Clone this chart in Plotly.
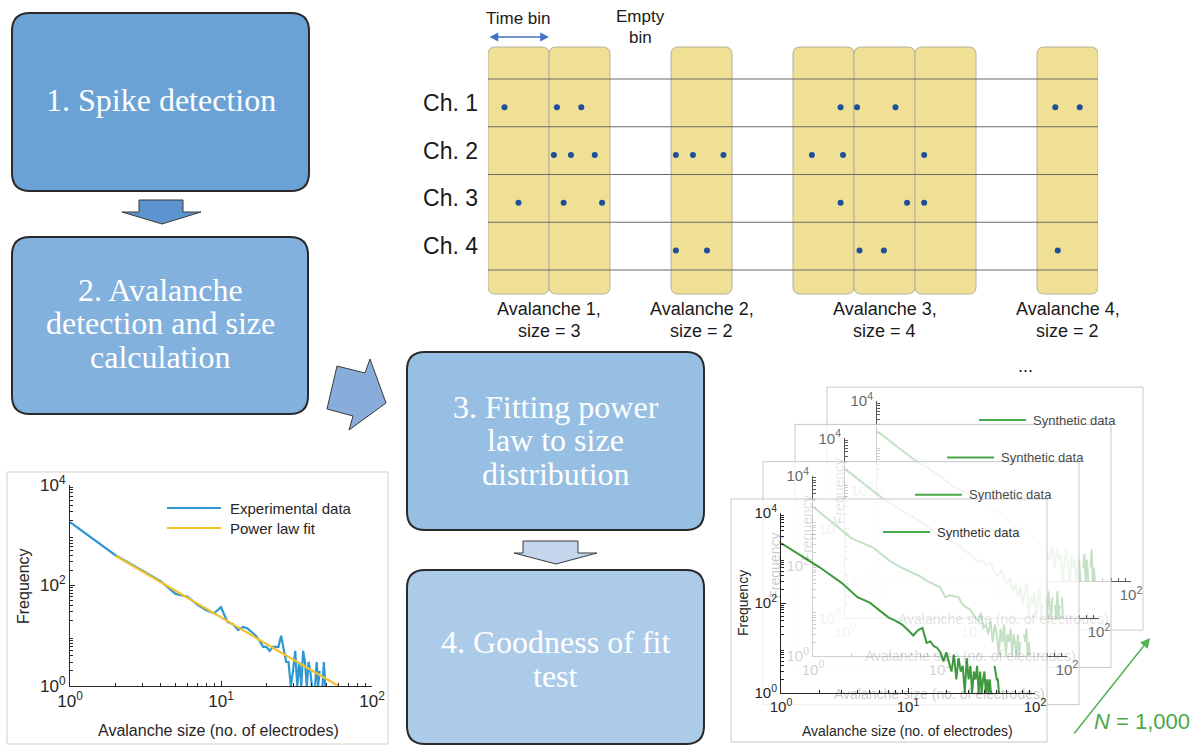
import plotly.graph_objects as go

W, H = 1202, 746          # browser window
OFF = 0                   # page margin removed by post_script below
PW, PH = W - 2 * OFF, H - 2 * OFF
SANS = "Liberation Sans, Arial, Helvetica, sans-serif"
SERIF = "Liberation Serif, Times New Roman, serif"

# ======================= DATA =======================
# Raster (spike times in units of time bins)
channel_ids = [1, 2, 3, 4]
channel_labels = ["Ch. 1", "Ch. 2", "Ch. 3", "Ch. 4"]
ch1_spikes = [0.27, 1.13, 1.53, 5.78, 6.05, 6.68, 9.30, 9.70]
ch2_spikes = [1.08, 1.36, 1.75, 3.08, 3.36, 3.86, 5.31, 5.82, 7.15]
ch3_spikes = [0.50, 1.24, 1.87, 5.78, 6.87, 7.15]
ch4_spikes = [3.08, 3.59, 6.09, 6.49, 9.34]
n_bins = 10

# Flow-chart steps
step1_lines = ["1. Spike detection"]
step2_lines = ["2. Avalanche", "detection and size", "calculation"]
step3_lines = ["3. Fitting power", "law to size", "distribution"]
step4_lines = ["4. Goodness of fit", "test"]

# Experimental size distribution
exp_size = list(range(1, 50))
exp_freq = [1820, 400, 200, 120, 68, 60, 41, 32, 28, 37,
            19, 17, 13, 15, 14, 12, 10, 8, 6, 6,
            5, 6, 6, 6, 10, 5, 3, 3, 1, 2,
            5, 1, 3, 1, 5, 3, 1, 3, 2, 1,
            None, 1, 3, 1, 2, None, 1, 3, 1]
fit_size = [2, 60]
fit_freq = [390, 1]

# Synthetic size distributions (front -> back)
syn_size = list(range(1, 53))
syn0_freq = [2140, 630, 280, 135, 102, 68, 48, 40, 33, 25,
             19, 25, 28, 13, 14, 11, 10, 8, 5, 8,
             5, 3, 7, 2, 6, 3, 4, 1, 6, 2,
             4, 1, 3, 2, 4, 1, 3, 1, 2, 3,
             1, 2, 1, 2, 1, None, None, 4, 3, 2, 2, 1]
syn1_freq = [2050, 410, 250, 130, 90, 70, 58, 45, 38, 33,
             20, 22, 21, 20, 14, 12, 11, 9, 7, 6,
             9, 4, 5, 3, 6, 2, 5, 3, 1, 4,
             2, 5, 1, 3, 2, 4, 1, 3, 2, 1,
             3, 1, 2, None, None, 3, 2, 4, 1, 2, 1, None]
syn2_freq = [2100, 450, 220, 140, 85, 62, 50, 40, 30, 26,
             18, 20, 15, 17, 11, 9, 12, 7, 6, 8,
             4, 6, 3, 5, 2, 4, 6, 1, 3, 2,
             4, 1, 3, 5, 1, 2, None, 3, 1, 4,
             2, 1, 3, None, 2, 1, 4, 1, 2, None, 3, 1]
syn3_freq = [2150, 480, 240, 125, 95, 66, 52, 38, 35, 27,
             22, 16, 18, 14, 12, 13, 9, 8, 7, 5,
             7, 4, 3, 6, 2, 5, 3, 4, 1, 3,
             5, 2, 1, 4, 2, 3, 1, 2, 3, 1,
             None, 2, 4, 1, 3, 1, None, 2, 5, 1, 2, 1]
syn_legend = "Synthetic data"
n_sims_label = "<i>N</i> = 1,000"

# ======================= HELPERS =======================
def px(x):
    return (x - OFF) / PW


def py(y):
    return 1 - (y - OFF) / PH


def rrect_path(x0, y0, x1, y1, r):
    X, Y = px, py
    return (f"M {X(x0 + r)},{Y(y0)} L {X(x1 - r)},{Y(y0)} "
            f"Q {X(x1)},{Y(y0)} {X(x1)},{Y(y0 + r)} L {X(x1)},{Y(y1 - r)} "
            f"Q {X(x1)},{Y(y1)} {X(x1 - r)},{Y(y1)} L {X(x0 + r)},{Y(y1)} "
            f"Q {X(x0)},{Y(y1)} {X(x0)},{Y(y1 - r)} L {X(x0)},{Y(y0 + r)} "
            f"Q {X(x0)},{Y(y0)} {X(x0 + r)},{Y(y0)} Z")


def poly_path(pts):
    return "M " + " L ".join(f"{px(a)},{py(b)}" for a, b in pts) + " Z"


def ann(text, x, y, size, color="#262626", family=SANS, xanchor="center",
        yanchor="middle", **kw):
    return dict(text=text, x=px(x), y=py(y), xref="paper", yref="paper",
                showarrow=False, font=dict(family=family, size=size, color=color),
                xanchor=xanchor, yanchor=yanchor, **kw)


shapes = []
annotations = []
fig = go.Figure()
layout = dict(template="none", width=PW, height=PH, autosize=False,
              margin=dict(l=0, r=0, t=0, b=0, pad=0),
              paper_bgcolor="white", plot_bgcolor="rgba(0,0,0,0)",
              showlegend=False, hovermode=False)

# ======================= FLOW CHART =======================
boxes = [
    (step1_lines, (12, 13, 309, 191), "#6ba2d6", [100]),
    (step2_lines, (12, 237, 308, 414), "#82b1de", [290, 323, 357]),
    (step3_lines, (407, 352, 704, 530), "#96bfe3", [407, 440, 474]),
    (step4_lines, (407, 570, 704, 744), "#accbe9", [642, 676]),
]
for lines, (x0, y0, x1, y1), col, ys in boxes:
    shapes.append(dict(type="path", path=rrect_path(x0, y0, x1, y1, 18),
                       xref="paper", yref="paper", fillcolor=col,
                       line=dict(color="#2a2a2a", width=2), layer="below"))
    for t, yy in zip(lines, ys):
        annotations.append(ann(t, (x0 + x1) / 2, yy, 32, color="white", family=SERIF))

arrows = [
    ([(139, 200), (183, 200), (183, 212), (201, 212), (162, 224), (122, 212), (139, 212)], "#5b94cf"),
    ([(327, 409), (337, 366), (365, 373), (370, 359), (386, 403), (349, 430), (353, 416)], "#89addb"),
    ([(523, 541), (578, 541), (578, 553), (597, 553), (556, 564), (514, 553), (523, 553)], "#c3d6ec"),
]
for pts, col in arrows:
    shapes.append(dict(type="path", path=poly_path(pts), xref="paper", yref="paper",
                       fillcolor=col, line=dict(color="#3a3a3a", width=1), layer="below"))

# ======================= RASTER =======================
RX0, RX1, RY0, RY1 = 488, 1098, 47, 294   # px domain of raster axes
DOT_DY = 0.09
spike_lists = [ch1_spikes, ch2_spikes, ch3_spikes, ch4_spikes]
all_spikes = [(ch, t) for ch, ts in zip(channel_ids, spike_lists) for t in ts]

active_bins = sorted({int(t) for _, t in all_spikes})
groups = []
for b in active_bins:
    if groups and b == groups[-1][-1] + 1:
        groups[-1].append(b)
    else:
        groups.append([b])
sizes = [len({ch for ch, t in all_spikes if int(t) in g}) for g in groups]
empty_bins = [b for b in range(n_bins) if b not in active_bins]

rx = 0.12
ry = 7 / PH
for b in active_bins:
    x0, x1 = b, b + 1
    yb, yt = py(RY1), py(RY0)
    path = (f"M {x0 + rx},{yt} L {x1 - rx},{yt} Q {x1},{yt} {x1},{yt - ry} "
            f"L {x1},{yb + ry} Q {x1},{yb} {x1 - rx},{yb} L {x0 + rx},{yb} "
            f"Q {x0},{yb} {x0},{yb + ry} L {x0},{yt - ry} Q {x0},{yt} {x0 + rx},{yt} Z")
    shapes.append(dict(type="path", path=path, xref="x", yref="paper",
                       fillcolor="#f0e096", line=dict(color="#b4b09a", width=1),
                       layer="below"))
for ch in channel_ids + [channel_ids[-1] + 1]:
    shapes.append(dict(type="line", xref="x domain", yref="y", x0=0, x1=1,
                       y0=ch - 0.5, y1=ch - 0.5,
                       line=dict(color="#6a6a6a", width=1.2), layer="below"))

fig.add_trace(go.Scatter(
    x=[t for _, t in all_spikes], y=[ch + DOT_DY for ch, _ in all_spikes],
    mode="markers", marker=dict(color="#1b4f9c", size=6),
    xaxis="x", yaxis="y"))

layout["xaxis"] = dict(domain=[px(RX0), px(RX1)], range=[0, n_bins], visible=False,
                       anchor="y", fixedrange=True, automargin=False)
layout["yaxis"] = dict(domain=[py(RY1), py(RY0)],
                       range=[channel_ids[-1] + 0.5 + (RY1 - 270) / 47.75,
                              channel_ids[0] - 0.5 - (79 - RY0) / 47.75],
                       tickvals=channel_ids, ticktext=channel_labels,
                       showgrid=False, zeroline=False, showline=False, ticks="",
                       ticklabelstandoff=9, anchor="x", fixedrange=True, automargin=False,
                       tickfont=dict(family=SANS, size=23, color="#1a1a1a"))

TXT = dict(family=SANS, size=18, color="#1a1a1a")
for g, s, i in zip(groups, sizes, range(len(groups))):
    xc = (g[0] + g[-1] + 1) / 2
    annotations.append(dict(text=f"Avalanche {i + 1},", x=xc, y=py(309), xref="x",
                            yref="paper", showarrow=False, font=TXT,
                            xanchor="center", yanchor="middle"))
    annotations.append(dict(text=f"size = {s}", x=xc, y=py(331), xref="x",
                            yref="paper", showarrow=False, font=TXT,
                            xanchor="center", yanchor="middle"))
annotations.append(dict(text="Time bin", x=0.5, y=py(18), xref="x", yref="paper",
                        showarrow=False, font=dict(TXT, size=17),
                        xanchor="center", yanchor="middle"))
bin_px = (RX1 - RX0) / n_bins
annotations.append(dict(text="", x=1, y=py(37), ax=-bin_px, ay=0, xref="x", yref="paper",
                        showarrow=True, arrowside="end+start",
                        arrowhead=2, startarrowhead=2, arrowsize=1.1, startarrowsize=1.1,
                        arrowwidth=1.6, arrowcolor="#4472c4"))
annotations.append(dict(text="Empty", x=empty_bins[0] + 0.5, y=py(16), xref="x",
                        yref="paper", showarrow=False, font=dict(TXT, size=17),
                        xanchor="center", yanchor="middle"))
annotations.append(dict(text="bin", x=empty_bins[0] + 0.5, y=py(37), xref="x",
                        yref="paper", showarrow=False, font=dict(TXT, size=17),
                        xanchor="center", yanchor="middle"))
annotations.append(ann("...", 1025, 366, 18, color="#1a1a1a"))

# ======================= LOG-LOG PLOTS =======================
minor_x = [m * 10 ** e for e in range(0, 2) for m in range(2, 10)]
minor_y = [m * 10 ** e for e in range(0, 4) for m in range(2, 10)]


def log_axes(n, xdom, ydom, tfs, tcol, lcol):
    common = dict(type="log", showgrid=False, zeroline=False, showline=True,
                  linecolor=lcol, linewidth=1, ticks="inside", ticklen=5,
                  tickcolor=lcol, fixedrange=True, automargin=False,
                  tickfont=dict(family=SANS, size=tfs, color=tcol))
    sfx = "" if n == 1 else str(n)
    layout["xaxis" + sfx] = dict(common, domain=xdom, range=[0, 2], anchor="y" + sfx,
                                 tickvals=[1, 10, 100],
                                 ticktext=["10<sup>0</sup>", "10<sup>1</sup>", "10<sup>2</sup>"],
                                 minor=dict(ticks="inside", ticklen=3, tickvals=minor_x,
                                            tickcolor=lcol))
    layout["yaxis" + sfx] = dict(common, domain=ydom, range=[0, 4], anchor="x" + sfx,
                                 tickvals=[1, 100, 10000],
                                 ticktext=["10<sup>0</sup>", "10<sup>2</sup>", "10<sup>4</sup>"],
                                 minor=dict(ticks="inside", ticklen=3, tickvals=minor_y,
                                            tickcolor=lcol))


# ---- experimental plot ----
shapes.append(dict(type="rect", xref="paper", yref="paper", x0=px(7), x1=px(388),
                   y0=py(744), y1=py(472), fillcolor="white",
                   line=dict(color="#d2d2d2", width=1), layer="below"))
log_axes(2, [px(70), px(372)], [py(686), py(485)], 17, "#262626", "#262626")
fig.add_trace(go.Scatter(x=exp_size, y=exp_freq, mode="lines",
                         line=dict(color="#2f97d2", width=2.2), xaxis="x2", yaxis="y2"))
fig.add_trace(go.Scatter(x=fit_size, y=fit_freq, mode="lines",
                         line=dict(color="#f2c12e", width=2.2), xaxis="x2", yaxis="y2"))
annotations.append(ann("Frequency", 23, 586, 16, textangle=-90))
annotations.append(ann("Avalanche size (no. of electrodes)", 218, 730, 16))
shapes.append(dict(type="line", xref="paper", yref="paper", x0=px(167), x1=px(221),
                   y0=py(508), y1=py(508), line=dict(color="#2f97d2", width=2.2)))
shapes.append(dict(type="line", xref="paper", yref="paper", x0=px(167), x1=px(221),
                   y0=py(528), y1=py(528), line=dict(color="#f2c12e", width=2.2)))
annotations.append(ann("Experimental data", 228, 508, 15, xanchor="left"))
annotations.append(ann("Power law fit", 228, 528, 15, xanchor="left"))

# ---- synthetic stack ----
DX, DY = 32, -37.3
COVER_ALPHA = 0.7
syn_series = [syn0_freq, syn1_freq, syn2_freq, syn3_freq]
plot_axis = {3: 3, 2: 5, 1: 7, 0: 9}
cover_axis = {2: 4, 1: 6, 0: 8}
title_alpha = {0: 1.0, 1: 0.26, 2: 0.18, 3: 0.14}
GREEN = "#3d9a3d"


def frame_rect(k):
    return (731 + DX * k, 499 + DY * k, 1047 + DX * k, 742 + DY * k)


# backmost frame as a plain shape
fx0, fy0, fx1, fy1 = frame_rect(3)
shapes.append(dict(type="rect", xref="paper", yref="paper", x0=px(fx0), x1=px(fx1),
                   y0=py(fy1), y1=py(fy0), fillcolor="white",
                   line=dict(color="#c8c8c8", width=1), layer="below"))

for k in [3, 2, 1, 0]:
    if k in cover_axis:
        n = cover_axis[k]
        fx0, fy0, fx1, fy1 = frame_rect(k)
        pad = 3
        wpx, hpx = fx1 - fx0, fy1 - fy0
        dl = max(fx0 - pad, OFF)
        dr = min(fx1 + pad, W - OFF)
        dt = max(fy0 - pad, OFF)
        db = min(fy1 + pad, H - OFF)
        layout[f"xaxis{n}"] = dict(domain=[px(dl), px(dr)],
                                   range=[(dl - fx0) / wpx, (dr - fx0) / wpx],
                                   visible=False, anchor=f"y{n}", fixedrange=True,
                                   automargin=False)
        layout[f"yaxis{n}"] = dict(domain=[py(db), py(dt)],
                                   range=[(fy1 - db) / hpx, (fy1 - dt) / hpx],
                                   visible=False, anchor=f"x{n}", fixedrange=True,
                                   automargin=False)
        fig.add_trace(go.Scatter(x=[0, 1, 1, 0, 0], y=[0, 0, 1, 1, 0], mode="lines",
                                 fill="toself",
                                 fillcolor=f"rgba(255,255,255,{COVER_ALPHA})",
                                 line=dict(color="#c8c8c8", width=1),
                                 xaxis=f"x{n}", yaxis=f"y{n}"))
    n = plot_axis[k]
    tcol = "#262626" if k == 0 else "#6a6a6a"
    lcol = "#262626" if k == 0 else "#5a5a5a"
    log_axes(n, [px(781 + DX * k), px(1035 + DX * k)],
             [py(693 + DY * k), py(513 + DY * k)], 15, tcol, lcol)
    freq = syn_series[k]
    fig.add_trace(go.Scatter(x=syn_size[:len(freq)], y=freq, mode="lines",
                             line=dict(color=GREEN, width=2), xaxis=f"x{n}", yaxis=f"y{n}"))
    a = title_alpha[k]
    tc = f"rgba(38,38,38,{a})"
    annotations.append(ann("Frequency", 743 + DX * k, 603 + DY * k, 14, color=tc,
                           textangle=-90))
    annotations.append(ann("Avalanche size (no. of electrodes)", 907 + DX * k,
                           731 + DY * k, 14, color=tc))
    shapes.append(dict(type="line", xref="paper", yref="paper",
                       x0=px(883 + DX * k), x1=px(930 + DX * k),
                       y0=py(532 + DY * k), y1=py(532 + DY * k),
                       line=dict(color="#49a849", width=2)))
    annotations.append(ann(syn_legend, 935 + DX * k, 532 + DY * k, 13,
                           color="#333333" if k == 0 else "#4a4a4a", xanchor="left"))

# N = 1,000 arrow
annotations.append(dict(text="", x=px(1150), y=py(638), ax=1073 - 1150, ay=735 - 638,
                        xref="paper", yref="paper",
                        showarrow=True, arrowhead=2, arrowsize=1.3, arrowwidth=1.5,
                        arrowcolor="#55b155"))
annotations.append(ann(n_sims_label, 1142, 721, 22, color="#4aa84a"))

layout["shapes"] = shapes
layout["annotations"] = annotations
fig.update_layout(**layout)
fig.write_html("out.html",
               config={"displayModeBar": False, "staticPlot": True},
               post_script="document.body.style.margin='0px';"
                           "document.body.style.overflow='hidden';")
